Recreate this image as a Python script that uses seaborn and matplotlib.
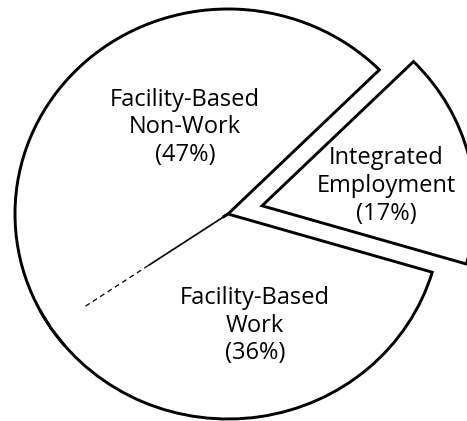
import numpy as np
import matplotlib
matplotlib.use("Agg")
import matplotlib.pyplot as plt
from matplotlib.patches import Arc
import seaborn as sns

# ---- data ----
categories = ["Integrated\nEmployment", "Facility-Based\nNon-Work", "Facility-Based\nWork"]
shares = [17, 47, 36]
explode_amt = [0.165, 0.0, 0.0]

# ---- layout (axes-fraction positions of labels) ----
label_pos = [(0.827, 0.558), (0.396, 0.698), (0.546, 0.226)]

sns.set_theme(style="white")
plt.rcParams["font.family"] = ["Open Sans", "DejaVu Sans"]

fig = plt.figure(figsize=(4.67, 4.21), dpi=100)
ax = fig.add_axes([0, 0, 1, 1])

LW = 2.1
wedges, _ = ax.pie(
    shares,
    explode=explode_amt,
    startangle=-16.5,
    counterclock=True,
    colors=["white"] * len(shares),
    wedgeprops=dict(edgecolor="black", linewidth=LW, joinstyle="miter"),
)

# pixel-to-data scaling: slightly wider than tall (as in the scanned original)
ax.set_aspect("auto")
ax.set_xlim(-228 / 213, (467 - 228) / 213)
ax.set_ylim(-(421 - 214) / 205, 214 / 205)
ax.axis("off")

# soften the boundary between the two facility-based slices (thin, broken line)
theta = wedges[1].theta2
th = np.deg2rad(theta)
c, s = np.cos(th), np.sin(th)
ax.plot([0.03 * c, 1.0 * c], [0.03 * s, 1.0 * s], color="white", lw=4.0,
        solid_capstyle="butt", zorder=5)
ax.add_patch(Arc((0, 0), 2, 2, theta1=theta - 6, theta2=theta + 6,
                 color="black", lw=LW, zorder=6))
ax.plot([0.0, 0.45 * c], [0.0, 0.45 * s], color="black", lw=1.2, zorder=6,
        solid_capstyle="butt")
ax.plot([0.45 * c, 0.82 * c], [0.45 * s, 0.82 * s], color="black", lw=0.9,
        dashes=(4, 3), zorder=6)

for name, pct, (x, y) in zip(categories, shares, label_pos):
    ax.text(x, y, f"{name}\n({pct}%)", transform=ax.transAxes,
            ha="center", va="center", fontsize=17, linespacing=1.2,
            color="black", zorder=7)

fig.savefig("out.png", dpi=100)
